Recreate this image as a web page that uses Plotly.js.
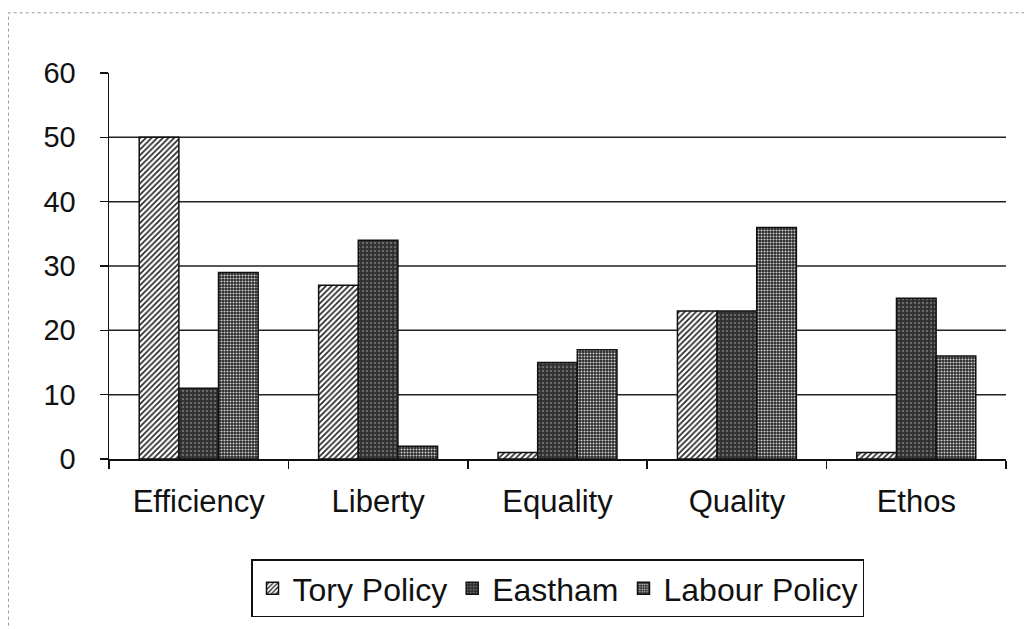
<!DOCTYPE html>
<html>
<head>
<meta charset="utf-8">
<script src="https://cdn.plot.ly/plotly-3.0.1.min.js"></script>
<style>html,body{margin:0;padding:0;background:#fff;}#chart{width:1024px;height:629px;}</style>
</head>
<body>
<div id="chart"></div>
<script>
const categories = ["Efficiency", "Liberty", "Equality", "Quality", "Ethos"];
const toryPolicy = [50, 27, 1, 23, 1];
const eastham = [11, 34, 15, 23, 25];
const labourPolicy = [29, 2, 17, 36, 16];
const yTicks = [0, 10, 20, 30, 40, 50, 60];
const gridValues = [10, 20, 30, 40, 50];

const lineStyle = {color: '#111', width: 1.5};
const traces = [
  {type: 'bar', name: 'Tory Policy', x: categories, y: toryPolicy,
   marker: {color: '#ffffff', line: lineStyle,
     pattern: {shape: '/', bgcolor: '#ffffff', fgcolor: '#222', size: 4, solidity: 0.4}}},
  {type: 'bar', name: 'Eastham', x: categories, y: eastham,
   marker: {color: '#3a3a3a', line: lineStyle,
     pattern: {shape: '.', bgcolor: '#303030', fgcolor: '#6a6a6a', size: 4, solidity: 0.3}}},
  {type: 'bar', name: 'Labour Policy', x: categories, y: labourPolicy,
   marker: {color: '#666', line: lineStyle,
     pattern: {shape: '.', bgcolor: '#262626', fgcolor: '#d0d0d0', size: 3, solidity: 0.38}}}
];

const shapes = gridValues.map(v => ({
  type: 'line', xref: 'paper', x0: 0, x1: 1, yref: 'y', y0: v, y1: v,
  line: {color: '#222', width: 1.5}, layer: 'below'
}));
shapes.push({type: 'rect', xref: 'paper', yref: 'paper', x0: -0.112, x1: 1.1, y0: -0.6, y1: 1.156,
  line: {color: '#999', width: 1, dash: 'dot'}, layer: 'below'});

const layout = {
  width: 1024, height: 629,
  margin: {l: 109, r: 18, t: 73, b: 168},
  paper_bgcolor: '#fff', plot_bgcolor: '#fff',
  font: {family: 'Liberation Sans, Arial, sans-serif', color: '#111', size: 30},
  barmode: 'group', bargap: 0.337, bargroupgap: 0,
  showlegend: true,
  legend: {orientation: 'h', x: 0.5, xanchor: 'center', y: -0.26, yanchor: 'top',
    bordercolor: '#111', borderwidth: 1.5, bgcolor: '#fff',
    font: {size: 32, family: 'Liberation Sans, Arial, sans-serif'},
    itemwidth: 30, tracegroupgap: 0, traceorder: 'normal'},
  xaxis: {type: 'category', showgrid: false, showline: true, linecolor: '#111', linewidth: 1.5,
    ticks: 'outside', tickson: 'boundaries', ticklen: 8, tickcolor: '#111', tickwidth: 1.5,
    tickfont: {size: 31}, zeroline: false, ticklabelstandoff: 14},
  yaxis: {range: [0, 60], tickvals: yTicks, ticktext: yTicks.map(String), showgrid: false,
    showline: true, linecolor: '#111', linewidth: 1.5, ticks: 'outside', ticklen: 8,
    tickcolor: '#111', tickwidth: 1.5, tickfont: {size: 29}, zeroline: false, ticklabelstandoff: 18},
  shapes: shapes
};

Plotly.newPlot('chart', traces, layout, {displayModeBar: false, staticPlot: true});
</script>
</body>
</html>
